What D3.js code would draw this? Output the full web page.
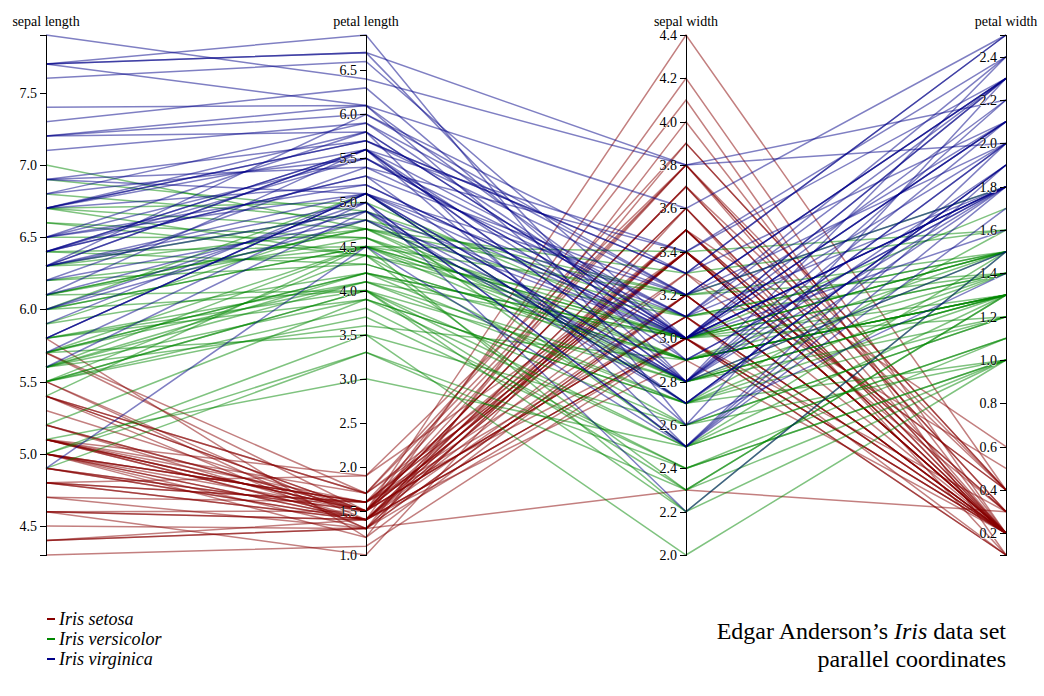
<!DOCTYPE html>
<html>
<head>
<meta charset="utf-8">
<script src="https://d3js.org/d3.v7.min.js"></script>
<style>
  html, body { margin: 0; padding: 0; background: #fff; }
  svg { font-family: "Liberation Serif", "Times New Roman", serif; font-size: 14px; }
  .foreground path { fill: none; stroke-opacity: .5; stroke-width: 1.5px; }
  .axis line, .axis path { fill: none; stroke: #000; shape-rendering: crispEdges; }
  .axis text { text-shadow: 0 1px 0 #fff; }
  .legend { font-size: 18px; font-style: italic; }
  .legend line { stroke-width: 2px; }
</style>
</head>
<body>
<script>
const speciesNames = ["setosa", "versicolor", "virginica"];
const speciesColors = ["#880000", "#008800", "#000088"];
const traits = ["sepal length", "petal length", "sepal width", "petal width"];

// Edgar Anderson's Iris data, row order as in the data set
const speciesCode = [
0,0,0,0,0,0,0,0,0,0,0,0,0,0,0,0,0,0,0,0,0,0,0,0,0,0,0,0,0,0,0,0,0,0,0,0,0,0,0,0,0,0,0,0,0,0,0,0,0,0,
1,1,1,1,1,1,1,1,1,1,1,1,1,1,1,1,1,1,1,1,1,1,1,1,1,1,1,1,1,1,1,1,1,1,1,1,1,1,1,1,1,1,1,1,1,1,1,1,1,1,
2,2,2,2,2,2,2,2,2,2,2,2,2,2,2,2,2,2,2,2,2,2,2,2,2,2,2,2,2,2,2,2,2,2,2,2,2,2,2,2,2,2,2,2,2,2,2,2,2,2];

const sepalLength = [
5.1,4.9,4.7,4.6,5.0,5.4,4.6,5.0,4.4,4.9,5.4,4.8,4.8,4.3,5.8,5.7,5.4,5.1,5.7,5.1,5.4,5.1,4.6,5.1,4.8,5.0,5.0,5.2,5.2,4.7,4.8,5.4,5.2,5.5,4.9,5.0,5.5,4.9,4.4,5.1,5.0,4.5,4.4,5.0,5.1,4.8,5.1,4.6,5.3,5.0,
7.0,6.4,6.9,5.5,6.5,5.7,6.3,4.9,6.6,5.2,5.0,5.9,6.0,6.1,5.6,6.7,5.6,5.8,6.2,5.6,5.9,6.1,6.3,6.1,6.4,6.6,6.8,6.7,6.0,5.7,5.5,5.5,5.8,6.0,5.4,6.0,6.7,6.3,5.6,5.5,5.5,6.1,5.8,5.0,5.6,5.7,5.7,6.2,5.1,5.7,
6.3,5.8,7.1,6.3,6.5,7.6,4.9,7.3,6.7,7.2,6.5,6.4,6.8,5.7,5.8,6.4,6.5,7.7,7.7,6.0,6.9,5.6,7.7,6.3,6.7,7.2,6.2,6.1,6.4,7.2,7.4,7.9,6.4,6.3,6.1,7.7,6.3,6.4,6.0,6.9,6.7,6.9,5.8,6.8,6.7,6.7,6.3,6.5,6.2,5.9];

const sepalWidth = [
3.5,3.0,3.2,3.1,3.6,3.9,3.4,3.4,2.9,3.1,3.7,3.4,3.0,3.0,4.0,4.4,3.9,3.5,3.8,3.8,3.4,3.7,3.6,3.3,3.4,3.0,3.4,3.5,3.4,3.2,3.1,3.4,4.1,4.2,3.1,3.2,3.5,3.6,3.0,3.4,3.5,2.3,3.2,3.5,3.8,3.0,3.8,3.2,3.7,3.3,
3.2,3.2,3.1,2.3,2.8,2.8,3.3,2.4,2.9,2.7,2.0,3.0,2.2,2.9,2.9,3.1,3.0,2.7,2.2,2.5,3.2,2.8,2.5,2.8,2.9,3.0,2.8,3.0,2.9,2.6,2.4,2.4,2.7,2.7,3.0,3.4,3.1,2.3,3.0,2.5,2.6,3.0,2.6,2.3,2.7,3.0,2.9,2.9,2.5,2.8,
3.3,2.7,3.0,2.9,3.0,3.0,2.5,2.9,2.5,3.6,3.2,2.7,3.0,2.5,2.8,3.2,3.0,3.8,2.6,2.2,3.2,2.8,2.8,2.7,3.3,3.2,2.8,3.0,2.8,3.0,2.8,3.8,2.8,2.8,2.6,3.0,3.4,3.1,3.0,3.1,3.1,3.1,2.7,3.2,3.3,3.0,2.5,3.0,3.4,3.0];

const petalLength = [
1.4,1.4,1.3,1.5,1.4,1.7,1.4,1.5,1.4,1.5,1.5,1.6,1.4,1.1,1.2,1.5,1.3,1.4,1.7,1.5,1.7,1.5,1.0,1.7,1.9,1.6,1.6,1.5,1.4,1.6,1.6,1.5,1.5,1.4,1.5,1.2,1.3,1.4,1.3,1.5,1.3,1.3,1.3,1.6,1.9,1.4,1.6,1.4,1.5,1.4,
4.7,4.5,4.9,4.0,4.6,4.5,4.7,3.3,4.6,3.9,3.5,4.2,4.0,4.7,3.6,4.4,4.5,4.1,4.5,3.9,4.8,4.0,4.9,4.7,4.3,4.4,4.8,5.0,4.5,3.5,3.8,3.7,3.9,5.1,4.5,4.5,4.7,4.4,4.1,4.0,4.4,4.6,4.0,3.3,4.2,4.2,4.2,4.3,3.0,4.1,
6.0,5.1,5.9,5.6,5.8,6.6,4.5,6.3,5.8,6.1,5.1,5.3,5.5,5.0,5.1,5.3,5.5,6.7,6.9,5.0,5.7,4.9,6.7,4.9,5.7,6.0,4.8,4.9,5.6,5.8,6.1,6.4,5.6,5.1,5.6,6.1,5.6,5.5,4.8,5.4,5.6,5.1,5.1,5.9,5.7,5.2,5.0,5.2,5.4,5.1];

const petalWidth = [
0.2,0.2,0.2,0.2,0.2,0.4,0.3,0.2,0.2,0.1,0.2,0.2,0.1,0.1,0.2,0.4,0.4,0.3,0.3,0.3,0.2,0.4,0.2,0.5,0.2,0.2,0.4,0.2,0.2,0.2,0.2,0.4,0.1,0.2,0.2,0.2,0.2,0.1,0.2,0.2,0.3,0.3,0.2,0.6,0.4,0.3,0.2,0.2,0.2,0.2,
1.4,1.5,1.5,1.3,1.5,1.3,1.6,1.0,1.3,1.4,1.0,1.5,1.0,1.4,1.3,1.4,1.5,1.0,1.5,1.1,1.8,1.3,1.5,1.2,1.3,1.4,1.4,1.7,1.5,1.0,1.1,1.0,1.2,1.6,1.5,1.6,1.5,1.3,1.3,1.3,1.2,1.4,1.2,1.0,1.3,1.2,1.3,1.3,1.1,1.3,
2.5,1.9,2.1,1.8,2.2,2.1,1.7,1.8,1.8,2.5,2.0,1.9,2.1,2.0,2.4,2.3,1.8,2.2,2.3,1.5,2.3,2.0,2.0,1.8,2.1,1.8,1.8,1.8,2.1,1.6,1.9,2.0,2.2,1.5,1.4,2.3,2.4,1.8,1.8,2.1,2.4,2.3,1.9,2.3,2.5,2.3,1.9,2.0,2.3,1.8];

const traitValues = {
  "sepal length": sepalLength,
  "petal length": petalLength,
  "sepal width": sepalWidth,
  "petal width": petalWidth
};

const flowers = speciesCode.map((s, i) => {
  const o = { species: speciesNames[s] };
  traits.forEach(t => { o[t] = traitValues[t][i]; });
  return o;
});

const W = 1044, H = 696;
const m = { top: 35, left: 46 };
const w = 960, h = 520;

const svg = d3.select("body").append("svg")
  .attr("width", W).attr("height", H);
const g = svg.append("g").attr("transform", `translate(${m.left},${m.top})`);

const x = d3.scalePoint().domain(traits).range([0, w]);
const y = {};
traits.forEach(t => {
  y[t] = d3.scaleLinear().domain(d3.extent(traitValues[t])).range([h, 0]);
});

const color = d3.scaleOrdinal().domain(speciesNames).range(speciesColors);

const line = d3.line();
function path(d) { return line(traits.map(t => [x(t), y[t](d[t])])); }

g.append("g").attr("class", "foreground")
  .selectAll("path").data(flowers).join("path")
  .attr("stroke", d => color(d.species))
  .attr("d", path);

const axisG = g.selectAll("g.trait").data(traits).join("g")
  .attr("class", "trait")
  .attr("transform", d => `translate(${x(d)},0)`);

axisG.append("g").attr("class", "axis")
  .each(function(d) {
    d3.select(this).call(d3.axisLeft(y[d]));
  })
  .attr("font-size", null).attr("font-family", null)
  .call(s => s.selectAll("text").attr("fill", "#000"));

axisG.append("text")
  .attr("text-anchor", "middle")
  .attr("y", -9)
  .text(d => d);

const legend = g.selectAll("g.legend").data(speciesNames).join("g")
  .attr("class", "legend")
  .attr("transform", (d, i) => `translate(1,${i * 20 + 584})`);
legend.append("line").attr("x2", 8).attr("stroke", d => color(d));
legend.append("text").attr("x", 12).attr("dy", ".31em").text(d => "Iris " + d);

const title = svg.append("text")
  .attr("text-anchor", "end")
  .attr("font-size", 24);
title.append("tspan").attr("x", 1006).attr("y", 639)
  .text("Edgar Anderson\u2019s ")
  .append("tspan").attr("font-style", "italic").text("Iris");
title.select("tspan").append("tspan").text(" data set");
title.append("tspan").attr("x", 1006).attr("y", 667).text("parallel coordinates");
</script>
</body>
</html>
